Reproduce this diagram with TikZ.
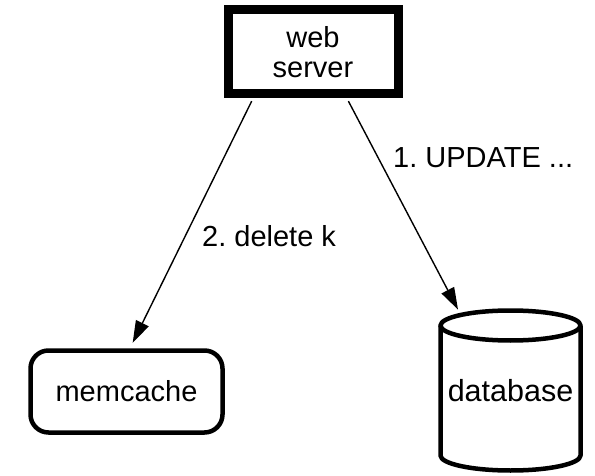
\documentclass[tikz,border=0pt]{standalone}
\usepackage{fontspec}
\setmainfont{Liberation Sans}
\usetikzlibrary{arrows.meta}
\frenchspacing

\tikzset{
  lbl/.style={font=\fontsize{29}{31}\selectfont, inner sep=0pt},
  serverbox/.style={draw, line width=9pt, minimum width=170pt, minimum height=84pt,
    align=center, font=\fontsize{29}{30}\selectfont},
  cachebox/.style={draw, line width=4.5pt, rounded corners=18pt,
    minimum width=192pt, minimum height=82pt, font=\fontsize{29}{31}\selectfont},
  dbbox/.style={minimum width=140pt, minimum height=160pt, outer sep=0pt,
    font=\fontsize{30.5}{32}\selectfont},
  cyl/.style={line width=4.5pt, line join=round},
  conn/.style={line width=1.4pt, -{Triangle[length=22pt,width=14pt]}},
}

\begin{document}
\begin{tikzpicture}[x=1pt, y=-1pt]
  \useasboundingbox (0,0) rectangle (595,476);

  % the three components
  \node[serverbox] (ws) at (313,52) {web\\server};
  \node[cachebox] (mc) at (126.5,391.5) {memcache};
  \node[dbbox] (db) at (510.5,390.5) {database};

  % database drawn as a cylinder around its node
  \draw[cyl] ([yshift=-15pt]db.north west) -- ([yshift=15pt]db.south west)
    arc[start angle=180, end angle=360, x radius=70pt, y radius=15pt]
    -- ([yshift=-15pt]db.north east);
  \draw[cyl] ([yshift=-15pt]db.north) ellipse[x radius=70pt, y radius=15pt];

  % requests from the web server
  \draw[conn, shorten <=3pt, shorten >=6pt]
    ([xshift=-60pt]ws.south) -- ([xshift=3.5pt]mc.north);
  \draw[conn, shorten <=3pt, shorten >=1pt]
    ([xshift=34pt]ws.south) -- ([xshift=-52pt]db.north);

  % request labels
  \node[lbl, anchor=base west] (upd) at (393,168) {1. UPDATE ...};
  \node[lbl, anchor=base west] (del) at (202,247) {2. delete k};
\end{tikzpicture}
\end{document}
